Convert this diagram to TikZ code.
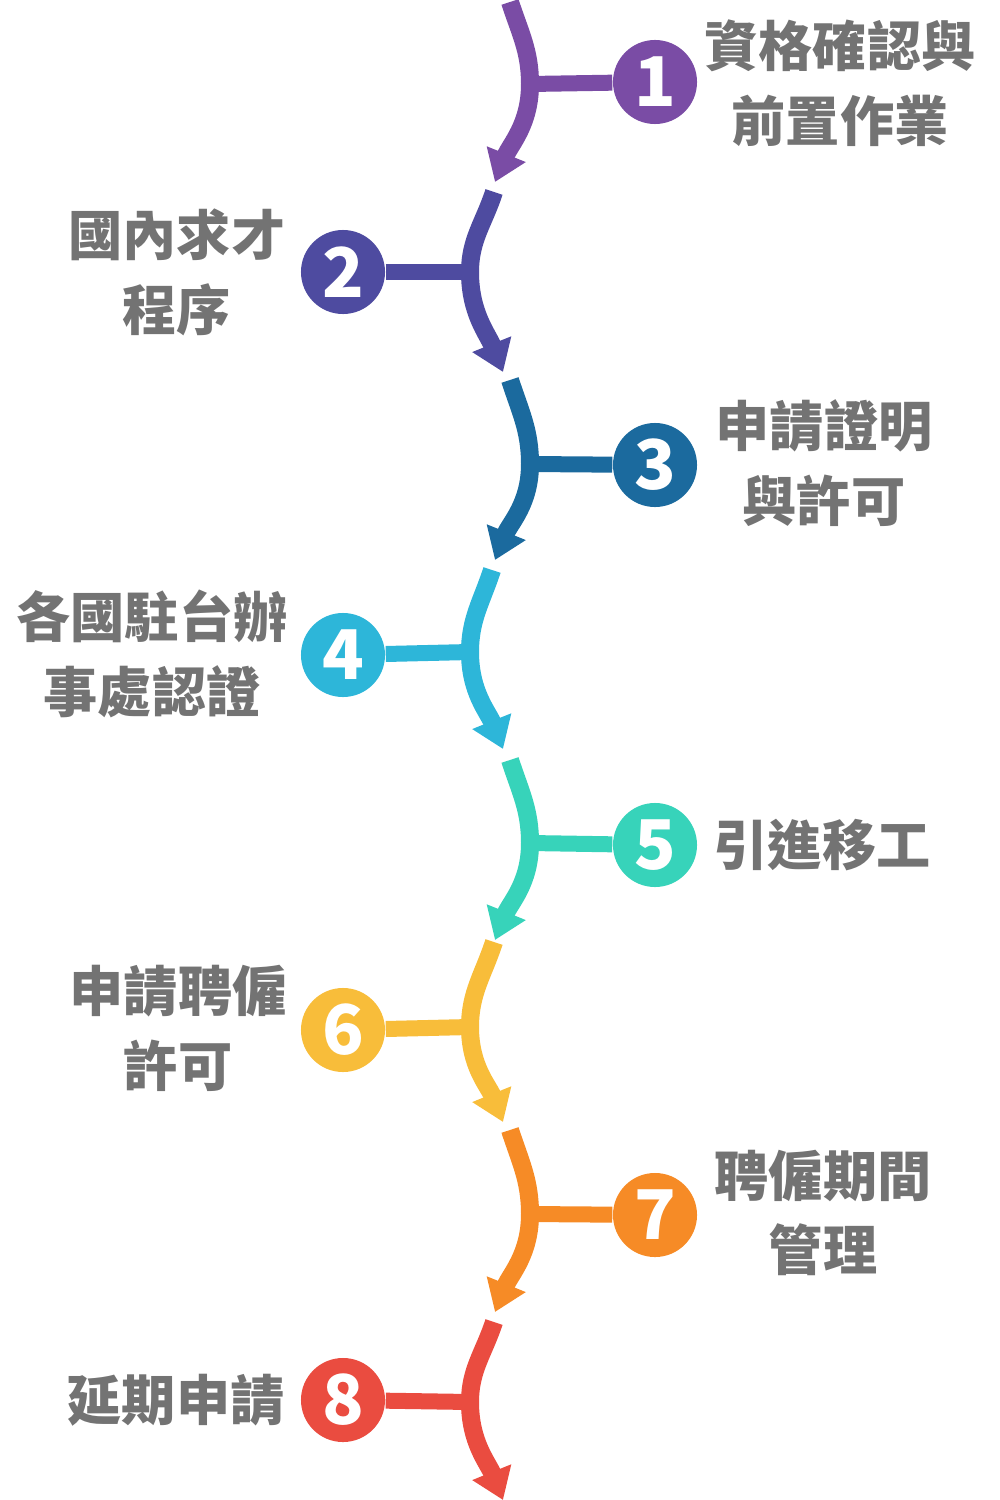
\documentclass[tikz,border=0pt]{standalone}
\usepackage{xcolor}
\usepackage{tikz}
\usetikzlibrary{arrows.meta}
\usepackage{fontspec}
\newfontfamily\cjk{Noto Sans CJK TC}

\definecolor{stepA}{HTML}{7A4CA5}
\definecolor{stepB}{HTML}{4E4BA0}
\definecolor{stepC}{HTML}{1B6A9E}
\definecolor{stepD}{HTML}{2DB6D9}
\definecolor{stepE}{HTML}{37D3BA}
\definecolor{stepF}{HTML}{F8BD3A}
\definecolor{stepG}{HTML}{F68B26}
\definecolor{stepH}{HTML}{EA4C40}
\definecolor{labelgray}{HTML}{737373}

\begin{document}
\begin{tikzpicture}[x=0.01cm, y=-0.01cm,
				flow/.style={line width=18*0.2845pt, -{Triangle[width=40*0.2845pt, length=30*0.2845pt]}},
				link/.style={line width=16*0.2845pt},
				badge/.style={circle, minimum size=0.84cm, inner sep=0pt, text=white, font=\cjk\bfseries\fontsize{19.5}{20}\selectfont},
				label/.style={text=labelgray, align=center, font=\cjk\bfseries\fontsize{15.4}{21.3}\selectfont}]
				\useasboundingbox (0,0) rectangle (1000,1500);
				% step 1
				\coordinate (t1) at (510,2);
				\coordinate (j1) at (530,84);
				\coordinate (e1) at (495,182);
				\node at (655,82) (c1) [badge, fill=stepA] {1};
				\node at (840,83) (l1) [label] {資格確認與\\前置作業};
				\draw [link, stepA] (j1) -- (c1);
				\draw [flow, stepA] (t1) to [out=-72,in=90] (j1) to [out=-90,in=68] (e1);
				% step 2
				\coordinate (t2) at (494,192);
				\coordinate (j2) at (470,272);
				\coordinate (e2) at (503,372);
				\node at (343,272) (c2) [badge, fill=stepB] {2};
				\node at (177,272) (l2) [label] {國內求才\\程序};
				\draw [link, stepB] (c2) -- (j2);
				\draw [flow, stepB] (t2) to [out=-108,in=90] (j2) to [out=-90,in=112] (e2);
				% step 3
				\coordinate (t3) at (510,380);
				\coordinate (j3) at (530,464);
				\coordinate (e3) at (495,560);
				\node at (655,465) (c3) [badge, fill=stepC] {3};
				\node at (824,463) (l3) [label] {申請證明\\與許可};
				\draw [link, stepC] (j3) -- (c3);
				\draw [flow, stepC] (t3) to [out=-72,in=90] (j3) to [out=-90,in=68] (e3);
				% step 4
				\coordinate (t4) at (492,570);
				\coordinate (j4) at (470,652);
				\coordinate (e4) at (503,749);
				\node at (343,655) (c4) [badge, fill=stepD] {4};
				\node at (152,654) (l4) [label] {各國駐台辦\\事處認證};
				\draw [link, stepD] (c4) -- (j4);
				\draw [flow, stepD] (t4) to [out=-108,in=90] (j4) to [out=-90,in=112] (e4);
				% step 5
				\coordinate (t5) at (510,760);
				\coordinate (j5) at (530,843);
				\coordinate (e5) at (495,940);
				\node at (655,845) (c5) [badge, fill=stepE] {5};
				\node at (822,845) (l5) [label] {引進移工};
				\draw [link, stepE] (j5) -- (c5);
				\draw [flow, stepE] (t5) to [out=-72,in=90] (j5) to [out=-90,in=68] (e5);
				% step 6
				\coordinate (t6) at (494,942);
				\coordinate (j6) at (470,1027);
				\coordinate (e6) at (503,1122);
				\node at (343,1030) (c6) [badge, fill=stepF] {6};
				\node at (178,1028) (l6) [label] {申請聘僱\\許可};
				\draw [link, stepF] (c6) -- (j6);
				\draw [flow, stepF] (t6) to [out=-108,in=90] (j6) to [out=-90,in=112] (e6);
				% step 7
				\coordinate (t7) at (510,1130);
				\coordinate (j7) at (530,1214);
				\coordinate (e7) at (495,1312);
				\node at (655,1215) (c7) [badge, fill=stepG] {7};
				\node at (823,1213) (l7) [label] {聘僱期間\\管理};
				\draw [link, stepG] (j7) -- (c7);
				\draw [flow, stepG] (t7) to [out=-72,in=90] (j7) to [out=-90,in=68] (e7);
				% step 8
				\coordinate (t8) at (494,1322);
				\coordinate (j8) at (470,1402);
				\coordinate (e8) at (503,1500);
				\node at (343,1400) (c8) [badge, fill=stepH] {8};
				\node at (176,1400) (l8) [label] {延期申請};
				\draw [link, stepH] (c8) -- (j8);
				\draw [flow, stepH] (t8) to [out=-108,in=90] (j8) to [out=-90,in=112] (e8);
			\end{tikzpicture}
\end{document}
